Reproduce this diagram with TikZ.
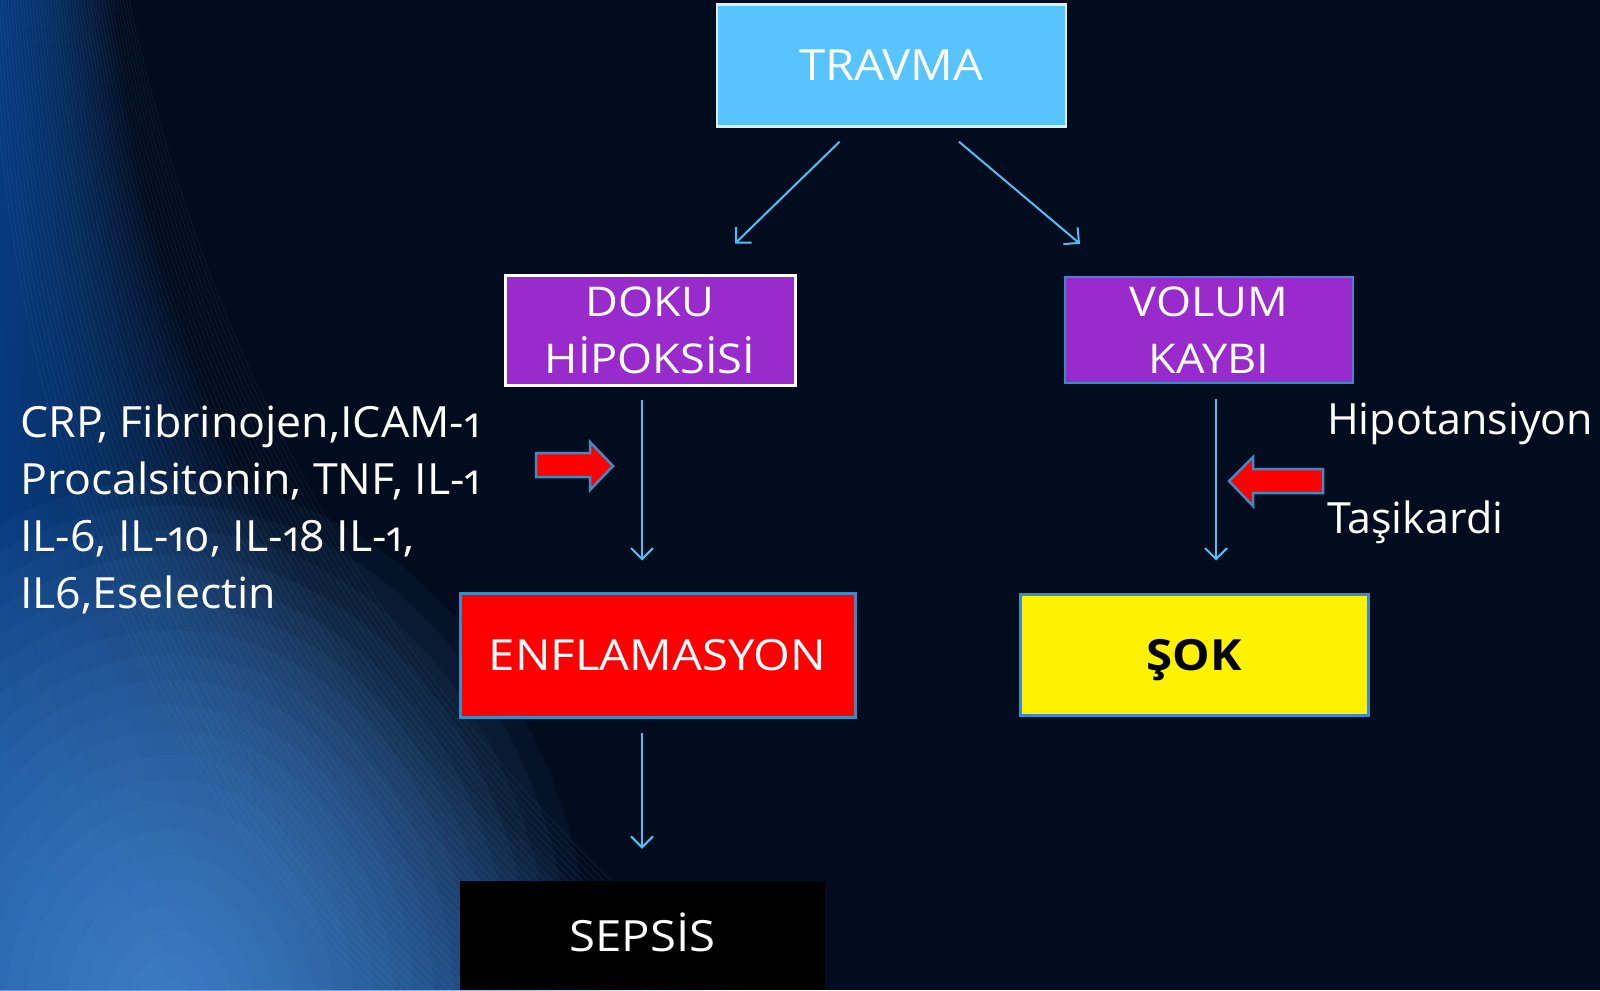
\documentclass[tikz,border=0pt]{standalone}
\usepackage{fontspec}
\setmainfont{Open Sans}[Numbers=OldStyle, FakeStretch=1.04]
\newfontfamily\boxfont{Open Sans}[Numbers=OldStyle, FakeStretch=1.1]
\newfontfamily\plainfont{Open Sans}[Numbers=OldStyle]
\usetikzlibrary{arrows.meta,calc}
\definecolor{bgc}{RGB}{1,12,30}
\definecolor{band}{RGB}{35,100,190}
\definecolor{glow}{RGB}{95,165,240}
\definecolor{streak}{RGB}{120,185,245}
\definecolor{conn}{RGB}{79,190,245}
\definecolor{travfill}{RGB}{87,196,255}
\definecolor{travedge}{RGB}{215,240,255}
\definecolor{purp}{RGB}{153,42,204}
\definecolor{boxedge}{RGB}{58,140,196}
\definecolor{redarrow}{RGB}{255,0,0}
\tikzset{
  boxbase/.style={rectangle, inner sep=0pt, align=center, text=white,
    font=\boxfont\fontsize{43}{57}\selectfont},
  onerow/.style={text height=31pt, text depth=0pt},
  conn/.style={draw=conn, line width=2pt, -{Straight Barb[length=11pt,width=22pt,line width=2pt]}},
  blockarrow/.style={fill=redarrow, draw=boxedge, line width=2.5pt, line join=miter},
  sidetext/.style={inner sep=0pt, text=white, font=\fontsize{43}{57}\selectfont}
}
\begin{document}
\begin{tikzpicture}[x=1pt,y=-1pt]
\useasboundingbox (0,0) rectangle (1600,990);
\fill[bgc] (0,0) rectangle (1600,990);
\begin{scope}
  \clip (0,0) rectangle (1600,990);
  % curved blue band on the left
  \foreach \k in {0,...,29} {
    \fill[band, opacity=0.035]
      (-5,-5) -- ({115-3.8*\k},-5) .. controls ({150-4.5*\k},520) and ({450-18*\k},820) .. ({740-21*\k},1000) -- (-5,1000) -- cycle;
  }
  % bright glow at the bottom left
  \foreach \r in {30,55,...,530} {
    \fill[glow, opacity=0.05] (170,1010) ellipse ({\r*0.8} and \r);
  }
  % streaks
  \foreach \i in {0,...,46} {
    \draw[streak, opacity=0.08, line width=1pt]
      ({-10+\i*3},-5) .. controls ({10+\i*5},520) and ({200+\i*7},820) .. ({380+\i*8},1000);
  }
\end{scope}

% boxes
\node[boxbase, onerow, fill=travfill, draw=travedge, line width=2.5pt,
      minimum width=349pt, minimum height=122pt] (travma) at (891.5,65.5) {TRAVMA};
\node[boxbase, fill=purp, draw=white, line width=3pt,
      minimum width=290pt, minimum height=110pt,
      font=\boxfont\fontsize{41}{57}\selectfont] (doku) at (650,330) {DOKU\\HİPOKSİSİ};
\node[boxbase, fill=purp, draw=boxedge, line width=2.5pt,
      minimum width=288pt, minimum height=106pt,
      font=\boxfont\fontsize{41}{57}\selectfont] (volum) at (1209,330) {VOLUM\\KAYBI};
\node[boxbase, onerow, fill=redarrow, draw=boxedge, line width=3pt,
      minimum width=395pt, minimum height=124pt] (enfl) at (657.5,655) {ENFLAMASYON};
\node[boxbase, onerow, fill=yellow, draw=boxedge, line width=3pt, text=black,
      minimum width=348pt, minimum height=121pt,
      font=\boxfont\fontsize{43}{57}\selectfont\bfseries] (sok) at (1194,654.5) {ŞOK};
\node[boxbase, onerow, fill=black, minimum width=365pt, minimum height=109pt] (sepsis) at (642.5,935.5) {SEPSİS};

% side texts
\node[sidetext, anchor=north west, align=left] (markers) at (20,405)
  {CRP, Fibrinojen,ICAM-1\\Procalsitonin, TNF, IL-1\\IL-6, IL-10, IL-18 IL-1,\\IL6,Eselectin};
\node[sidetext, anchor=base west, font=\plainfont\fontsize{43}{57}\selectfont] (hipo) at (1327,434) {Hipotansiyon};
\node[sidetext, anchor=base west, font=\plainfont\fontsize{43}{57}\selectfont] (tasi) at (1327,533) {Taşikardi};

% connectors
\draw[conn] ($(travma.south)+(-52,14)$) -- ($(doku.north)+(85,-30)$);
\draw[conn] ($(travma.south)+(67.5,14)$) -- ($(volum.north)+(-129,-32)$);
\draw[conn] ($(doku.south)+(-8,13)$) -- ($(enfl.north)+(-15.5,-31)$);
\draw[conn] ($(volum.south)+(7,15)$) -- ($(sok.north)+(22,-32)$);
\draw[conn] ($(enfl.south)+(-15.5,14)$) -- ($(sepsis.north)+(-0.5,-32)$);

% red block arrows
\draw[blockarrow] (536,453) -- (590,453) -- (590,442) -- (613,466) -- (590,490) -- (590,477) -- (536,477) -- cycle;
\draw[blockarrow] (1323,469) -- (1253,469) -- (1253,457) -- (1229,481) -- (1253,506) -- (1253,493) -- (1323,493) -- cycle;
\end{tikzpicture}
\end{document}
